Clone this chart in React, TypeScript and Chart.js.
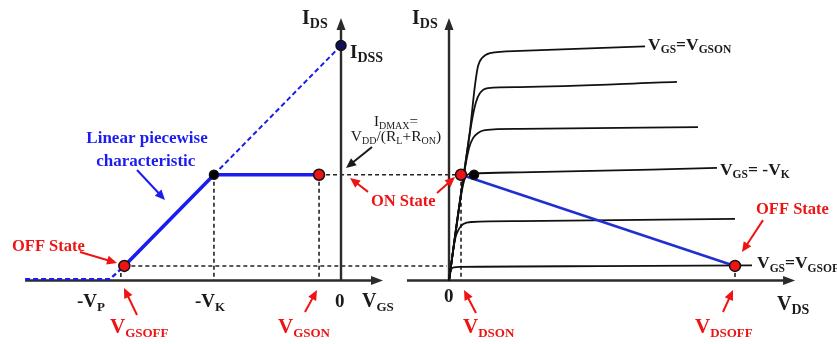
import React, { useEffect, useRef } from 'react';
import { Chart, registerables } from 'chart.js';

Chart.register(...registerables);

// ---------- Left panel: transfer characteristic IDS(VGS) ----------
const V_P = -4.0;
const V_GSOFF = -3.752;
const V_K = -2.2;
const V_GSON = -0.38;
const I_DSS = 10;
const I_DMAX = 4.5;
const I_OFF = 0.62;

const transferSolid = [
  { x: V_GSOFF, y: I_OFF },
  { x: V_K, y: I_DMAX },
  { x: V_GSON, y: I_DMAX },
];
const transferDashLow = [
  { x: -5.47, y: 0.06 },
  { x: V_P, y: 0.06 },
  { x: V_GSOFF, y: I_OFF },
];
const transferDashHigh = [
  { x: V_K, y: I_DMAX },
  { x: 0, y: I_DSS },
];
const leftRedPoints = [
  { x: V_GSOFF, y: I_OFF },
  { x: V_GSON, y: I_DMAX },
];
const leftBlackPoints = [{ x: V_K, y: I_DMAX }];
const leftIdssPoint = [{ x: 0, y: I_DSS }];

// ---------- Right panel: output characteristics IDS(VDS) ----------
const V_DSON = 0.84;
const V_DSOFF = 20;
const V_KNEE = 1.75;

const curveGSON = [
  { x: 0, y: 0 }, { x: 0.49, y: 2.15 }, { x: 0.98, y: 4.28 }, { x: 1.47, y: 6.4 },
  { x: 1.82, y: 8.32 }, { x: 2.03, y: 9.13 }, { x: 2.31, y: 9.47 }, { x: 2.87, y: 9.68 },
  { x: 4.97, y: 9.77 }, { x: 13.71, y: 9.96 },
];
const curve2 = [
  { x: 0, y: 0 }, { x: 0.98, y: 4.28 }, { x: 1.61, y: 6.83 }, { x: 1.89, y: 7.6 },
  { x: 2.17, y: 7.98 }, { x: 2.73, y: 8.19 }, { x: 4.97, y: 8.23 }, { x: 15.94, y: 8.45 },
];
const curve3 = [
  { x: 0, y: 0 }, { x: 0.98, y: 4.28 }, { x: 1.4, y: 5.64 }, { x: 1.68, y: 6.06 },
  { x: 2.03, y: 6.28 }, { x: 2.52, y: 6.4 }, { x: 4.97, y: 6.45 }, { x: 17.41, y: 6.53 },
];
const curveK = [
  { x: 0, y: 0 }, { x: 0.91, y: 3.85 }, { x: 1.19, y: 4.45 }, { x: 1.61, y: 4.55 },
  { x: 4.97, y: 4.6 }, { x: 18.74, y: 4.79 },
];
const curve5 = [
  { x: 0, y: 0 }, { x: 0.42, y: 1.75 }, { x: 0.7, y: 2.2 }, { x: 1.0, y: 2.4 },
  { x: 1.6, y: 2.49 }, { x: 4.97, y: 2.53 }, { x: 20.0, y: 2.62 },
];
const curveGSOFF = [
  { x: 0, y: 0 }, { x: 0.14, y: 0.45 }, { x: 0.35, y: 0.56 }, { x: 0.77, y: 0.58 },
  { x: 10.56, y: 0.61 }, { x: 21.19, y: 0.64 },
];
const loadLine = [
  { x: V_DSON, y: I_DMAX },
  { x: V_DSOFF, y: I_OFF },
];
const rightRedPoints = [
  { x: V_DSON, y: I_DMAX },
  { x: V_DSOFF, y: I_OFF },
];
const rightBlackPoints = [{ x: V_KNEE, y: I_DMAX }];

// ---------- Layout (pixel anchors of the scales) ----------
const W = 837;
const H = 344;
const L_ZERO_PX = 341, L_PX_PER_UNIT = 57.75;
const R_ZERO_PX = 449, R_PX_PER_UNIT = 14.3;
const Y_ZERO_PX = 280.5, Y_PX_PER_UNIT = 23.5;

const FONT = '"Liberation Serif", "Times New Roman", serif';
const RED = '#ee1414';
const BLUE = '#1c1cf0';
const DARK = '#1a1a1a';

type Lbl = {
  p: 'L' | 'R'; x: number; y: number; t: string; size: number; sub: number;
  bold?: boolean; color?: string; align?: 'left' | 'center';
};

const labels: Lbl[] = [
  { p: 'L', x: -0.675, y: 10.91, t: 'I_{DS}', size: 20, sub: 14, bold: true },
  { p: 'L', x: 0.156, y: 9.47, t: 'I_{DSS}', size: 19, sub: 14, bold: true },
  { p: 'L', x: 0.952, y: 6.57, t: 'I_{DMAX}=', size: 15, sub: 10, align: 'center' },
  { p: 'L', x: 0.952, y: 5.94, t: 'V_{DD}/(R_{L}+R_{ON})', size: 15.5, sub: 10, align: 'center' },
  { p: 'L', x: -3.359, y: 5.85, t: 'Linear piecewise', size: 17, sub: 12, bold: true, color: BLUE, align: 'center' },
  { p: 'L', x: -3.38, y: 4.87, t: 'characteristic', size: 17, sub: 12, bold: true, color: BLUE, align: 'center' },
  { p: 'L', x: -5.697, y: 1.255, t: 'OFF State', size: 16.5, sub: 12, bold: true, color: RED },
  { p: 'L', x: -4.571, y: -1.128, t: '-V_{P}', size: 19, sub: 13, bold: true },
  { p: 'L', x: -2.528, y: -1.128, t: '-V_{K}', size: 19, sub: 13, bold: true },
  { p: 'L', x: -0.104, y: -1.128, t: '0', size: 19, sub: 13, bold: true },
  { p: 'L', x: 0.364, y: -1.128, t: 'V_{GS}', size: 20, sub: 13, bold: true },
  { p: 'L', x: -4.0, y: -2.234, t: 'V_{GSOFF}', size: 21, sub: 13, bold: true, color: RED },
  { p: 'L', x: -1.091, y: -2.234, t: 'V_{GSON}', size: 21, sub: 13, bold: true, color: RED },
  { p: 'L', x: 0.519, y: 3.17, t: 'ON State', size: 16.5, sub: 12, bold: true, color: RED },
  { p: 'R', x: -2.587, y: 10.91, t: 'I_{DS}', size: 20, sub: 14, bold: true },
  { p: 'R', x: -0.35, y: -0.915, t: '0', size: 19, sub: 13, bold: true },
  { p: 'R', x: 22.94, y: -1.255, t: 'V_{DS}', size: 20, sub: 14, bold: true },
  { p: 'R', x: 0.979, y: -2.234, t: 'V_{DSON}', size: 21, sub: 13, bold: true, color: RED },
  { p: 'R', x: 17.2, y: -2.234, t: 'V_{DSOFF}', size: 21, sub: 13, bold: true, color: RED },
  { p: 'R', x: 21.47, y: 2.83, t: 'OFF State', size: 16.5, sub: 12, bold: true, color: RED },
  { p: 'R', x: 13.92, y: 9.81, t: 'V_{GS}=V_{GSON}', size: 17.5, sub: 11.5, bold: true },
  { p: 'R', x: 18.95, y: 4.49, t: 'V_{GS}= -V_{K}', size: 17.5, sub: 11.5, bold: true },
  { p: 'R', x: 21.54, y: 0.53, t: 'V_{GS}=V_{GSOFF}', size: 17.5, sub: 11.5, bold: true },
];

type Arr = { p: 'L' | 'R'; x1: number; y1: number; x2: number; y2: number; color: string };
const arrows: Arr[] = [
  { p: 'L', x1: 0.537, y1: 5.68, x2: 0.087, y2: 4.79, color: DARK },
  { p: 'L', x1: -3.532, y1: 4.7, x2: -3.048, y2: 3.43, color: BLUE },
  { p: 'L', x1: -4.519, y1: 1.21, x2: -3.879, y2: 0.745, color: RED },
  { p: 'L', x1: -3.532, y1: -1.468, x2: -3.758, y2: -0.319, color: RED },
  { p: 'L', x1: -0.623, y1: -1.34, x2: -0.416, y2: -0.404, color: RED },
  { p: 'L', x1: 0.468, y1: 3.77, x2: 0.156, y2: 4.36, color: RED },
  { p: 'R', x1: -0.839, y1: 3.72, x2: 0.42, y2: 4.4, color: RED },
  { p: 'R', x1: 1.888, y1: -1.383, x2: 1.049, y2: -0.404, color: RED },
  { p: 'R', x1: 19.16, y1: -1.34, x2: 19.86, y2: -0.404, color: RED },
  { p: 'R', x1: 21.96, y1: 2.57, x2: 20.49, y2: 1.21, color: RED },
];

// axes extents in data units
const L_AXIS = { xMin: -5.47, xMax: 0.727, yMax: 11.17 };
const R_AXIS = { xMin: -2.94, xMax: 24.2, yMax: 11.17 };

// dashed guides
const hGuides = [
  { y: I_DMAX, fromL: V_GSON, toR: V_DSON },
  { y: I_OFF, fromL: V_GSOFF, toR: -0.15 },
];
const vGuidesL = [
  { x: V_K, y: I_DMAX },
  { x: V_GSON, y: I_DMAX },
  { x: V_GSOFF - 0.06, y: I_OFF },
];
const vGuidesR = [
  { x: V_DSON, y: I_DMAX },
  { x: V_DSOFF, y: I_OFF },
];

function parseRich(s: string) {
  const out: { t: string; sub: boolean }[] = [];
  let i = 0;
  while (i < s.length) {
    const j = s.indexOf('_{', i);
    if (j < 0) { out.push({ t: s.slice(i), sub: false }); break; }
    if (j > i) out.push({ t: s.slice(i, j), sub: false });
    const k = s.indexOf('}', j);
    out.push({ t: s.slice(j + 2, k), sub: true });
    i = k + 1;
  }
  return out;
}

function drawRich(ctx: CanvasRenderingContext2D, l: Lbl, px: number, py: number) {
  const parts = parseRich(l.t);
  const w = l.bold ? 'bold ' : '';
  let total = 0;
  const widths = parts.map((p) => {
    ctx.font = `${w}${p.sub ? l.sub : l.size}px ${FONT}`;
    const m = ctx.measureText(p.t).width;
    total += m;
    return m;
  });
  let x = l.align === 'center' ? px - total / 2 : px;
  ctx.fillStyle = l.color || DARK;
  ctx.textBaseline = 'alphabetic';
  ctx.textAlign = 'left';
  parts.forEach((p, i) => {
    ctx.font = `${w}${p.sub ? l.sub : l.size}px ${FONT}`;
    ctx.fillText(p.t, x, py + (p.sub ? l.size * 0.2 : 0));
    x += widths[i];
  });
}

function arrowHead(ctx: CanvasRenderingContext2D, x1: number, y1: number, x2: number, y2: number, len: number, half: number, color: string) {
  const a = Math.atan2(y2 - y1, x2 - x1);
  ctx.fillStyle = color;
  ctx.beginPath();
  ctx.moveTo(x2, y2);
  ctx.lineTo(x2 - len * Math.cos(a) + half * Math.sin(a), y2 - len * Math.sin(a) - half * Math.cos(a));
  ctx.lineTo(x2 - len * Math.cos(a) - half * Math.sin(a), y2 - len * Math.sin(a) + half * Math.cos(a));
  ctx.closePath();
  ctx.fill();
}

function drawArrow(ctx: CanvasRenderingContext2D, x1: number, y1: number, x2: number, y2: number, color: string, width: number, len: number, half: number) {
  const a = Math.atan2(y2 - y1, x2 - x1);
  ctx.strokeStyle = color;
  ctx.lineWidth = width;
  ctx.beginPath();
  ctx.moveTo(x1, y1);
  ctx.lineTo(x2 - len * 0.7 * Math.cos(a), y2 - len * 0.7 * Math.sin(a));
  ctx.stroke();
  arrowHead(ctx, x1, y1, x2, y2, len, half, color);
}

const diagramPlugin = {
  id: 'diagram',
  beforeDatasetsDraw(chart: any) {
    const ctx: CanvasRenderingContext2D = chart.ctx;
    const sL = chart.scales.xL, sR = chart.scales.xR, sY = chart.scales.y;
    ctx.save();
    // dashed guides
    ctx.strokeStyle = '#222';
    ctx.lineWidth = 1.6;
    ctx.setLineDash([4, 3]);
    hGuides.forEach((g) => {
      ctx.beginPath();
      ctx.moveTo(sL.getPixelForValue(g.fromL), sY.getPixelForValue(g.y));
      ctx.lineTo(sR.getPixelForValue(g.toR), sY.getPixelForValue(g.y));
      ctx.stroke();
    });
    vGuidesL.forEach((g) => {
      ctx.beginPath();
      ctx.moveTo(sL.getPixelForValue(g.x), sY.getPixelForValue(g.y));
      ctx.lineTo(sL.getPixelForValue(g.x), sY.getPixelForValue(0));
      ctx.stroke();
    });
    vGuidesR.forEach((g) => {
      ctx.beginPath();
      ctx.moveTo(sR.getPixelForValue(g.x), sY.getPixelForValue(g.y));
      ctx.lineTo(sR.getPixelForValue(g.x), sY.getPixelForValue(0));
      ctx.stroke();
    });
    ctx.setLineDash([]);
    // axes
    const axisColor = '#2b2b2b';
    const y0 = sY.getPixelForValue(0);
    [[sL, L_AXIS], [sR, R_AXIS]].forEach(([s, a]: any) => {
      const xa = s.getPixelForValue(a.xMin), xb = s.getPixelForValue(a.xMax);
      const x0 = s.getPixelForValue(0), yt = sY.getPixelForValue(a.yMax);
      drawArrow(ctx, xa, y0, xb, y0, axisColor, 2.4, 12, 4.5);
      drawArrow(ctx, x0, y0, x0, yt, axisColor, 2.4, 12, 4.5);
    });
    ctx.restore();
  },
  afterDatasetsDraw(chart: any) {
    const ctx: CanvasRenderingContext2D = chart.ctx;
    const sL = chart.scales.xL, sR = chart.scales.xR, sY = chart.scales.y;
    ctx.save();
    arrows.forEach((a) => {
      const s = a.p === 'L' ? sL : sR;
      drawArrow(ctx, s.getPixelForValue(a.x1), sY.getPixelForValue(a.y1), s.getPixelForValue(a.x2), sY.getPixelForValue(a.y2), a.color, 2, 10, 4.5);
    });
    labels.forEach((l) => {
      const s = l.p === 'L' ? sL : sR;
      drawRich(ctx, l, s.getPixelForValue(l.x), sY.getPixelForValue(l.y));
    });
    ctx.restore();
  },
};

export default function App() {
  const ref = useRef<HTMLCanvasElement | null>(null);
  useEffect(() => {
    if (!ref.current) return;
    const lineDs = (data: any[], xAxisID: string, color: string, width: number, extra: any = {}) => ({
      type: 'line' as const,
      data,
      xAxisID,
      yAxisID: 'y',
      borderColor: color,
      borderWidth: width,
      pointRadius: 0,
      fill: false,
      order: 2,
      ...extra,
    });
    const pointDs = (data: any[], xAxisID: string, fillColor: string, r: number) => ({
      type: 'line' as const,
      data,
      xAxisID,
      yAxisID: 'y',
      showLine: false,
      pointRadius: r,
      pointBackgroundColor: fillColor,
      pointBorderColor: '#111',
      pointBorderWidth: 1.5,
      order: 0,
    });
    const curveOpts = { cubicInterpolationMode: 'monotone' };
    const chart = new Chart(ref.current, {
      type: 'line',
      data: {
        datasets: [
          pointDs(leftRedPoints, 'xL', RED, 5.5),
          pointDs(leftBlackPoints, 'xL', '#000', 4.5),
          pointDs(leftIdssPoint, 'xL', '#10105a', 5),
          pointDs(rightRedPoints, 'xR', RED, 5.5),
          pointDs(rightBlackPoints, 'xR', '#000', 4.5),
          lineDs(loadLine, 'xR', '#1f2fd0', 2.6, { order: 1 }),
          lineDs(transferSolid, 'xL', BLUE, 3.6, { order: 1 }),
          lineDs(transferDashLow, 'xL', BLUE, 2.4, { borderDash: [5, 3] }),
          lineDs(transferDashHigh, 'xL', BLUE, 2, { borderDash: [5, 3] }),
          lineDs(curveGSON, 'xR', '#111', 1.8, curveOpts),
          lineDs(curve2, 'xR', '#111', 1.8, curveOpts),
          lineDs(curve3, 'xR', '#111', 1.8, curveOpts),
          lineDs(curveK, 'xR', '#111', 1.8, curveOpts),
          lineDs(curve5, 'xR', '#111', 1.8, curveOpts),
          lineDs(curveGSOFF, 'xR', '#111', 1.8, curveOpts),
        ] as any,
      },
      options: {
        responsive: false,
        animation: false,
        events: [],
        layout: { padding: 0, autoPadding: false },
        plugins: { legend: { display: false }, tooltip: { enabled: false } },
        scales: {
          xL: {
            type: 'linear', display: false,
            min: -L_ZERO_PX / L_PX_PER_UNIT, max: (W - L_ZERO_PX) / L_PX_PER_UNIT,
          },
          xR: {
            type: 'linear', display: false,
            min: -R_ZERO_PX / R_PX_PER_UNIT, max: (W - R_ZERO_PX) / R_PX_PER_UNIT,
          },
          y: {
            type: 'linear', display: false,
            min: -(H - Y_ZERO_PX) / Y_PX_PER_UNIT, max: Y_ZERO_PX / Y_PX_PER_UNIT,
          },
        },
      } as any,
      plugins: [diagramPlugin],
    });
    return () => chart.destroy();
  }, []);
  return (
    <div style={{ position: 'fixed', left: 0, top: 0, width: W, height: H, background: '#fff' }}>
      <canvas ref={ref} width={W} height={H} style={{ display: 'block' }} />
    </div>
  );
}
